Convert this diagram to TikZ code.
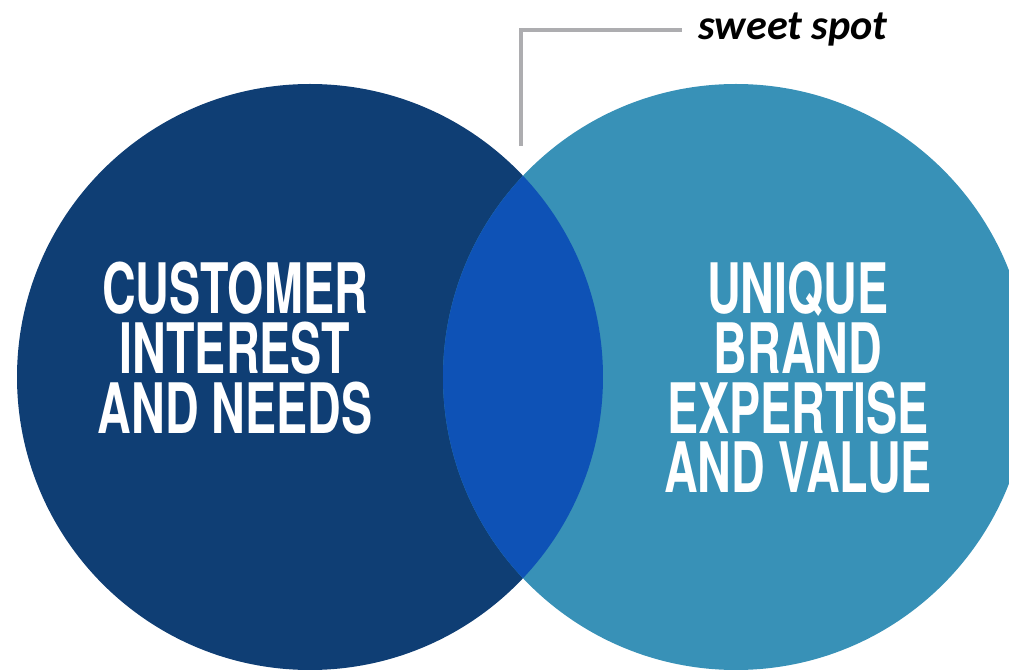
\documentclass[tikz,border=0pt]{standalone}
\usepackage{fontspec}
\usepackage{tikz}
\usepackage{xcolor}
\usetikzlibrary{positioning,calc}
\newfontfamily\condfont[FakeStretch=0.67]{TeX Gyre Heros}
\newfontfamily\calfont{Carlito}
\definecolor{needblue}{RGB}{15,62,116}
\definecolor{brandblue}{RGB}{56,145,183}
\definecolor{spotblue}{RGB}{14,82,182}
\definecolor{leadgray}{RGB}{173,173,176}

\begin{document}
\begin{tikzpicture}[
    bigtext/.style={text=white, align=center, font=\condfont\bfseries\fontsize{19.8}{17}\selectfont},
    ring/.style={circle, minimum size=5.86cm, inner sep=0pt}
]
    \useasboundingbox (0,0) rectangle (10.09,-6.70);
    \clip (0,0) rectangle (10.09,-6.70);

    % Circles
    \node[ring, fill=needblue] (need) at (3.10,-3.77) {};
    \node[ring, fill=brandblue] (brand) at (7.36,-3.77) {};

    % Overlap
    \begin{scope}
        \clip (3.10,-3.77) circle (2.93);
        \fill[spotblue] (7.36,-3.77) circle (2.93);
    \end{scope}

    % Texts
    \node[bigtext] (needtext) at (2.35,-3.48) {CUSTOMER\\INTEREST\\AND NEEDS};
    \node[bigtext] (brandtext) at (7.98,-3.78) {UNIQUE\\BRAND\\EXPERTISE\\AND VALUE};

    % Sweet spot label
    \node[anchor=west, inner sep=4.5pt, font=\calfont\bfseries\itshape\fontsize{12}{14}\selectfont] (spot) at (6.82,-0.30) {sweet spot};
    \coordinate (tip) at (5.21,-1.46);
    \draw[leadgray, line width=1.4pt] (tip) |- (spot.west);
\end{tikzpicture}
\end{document}
